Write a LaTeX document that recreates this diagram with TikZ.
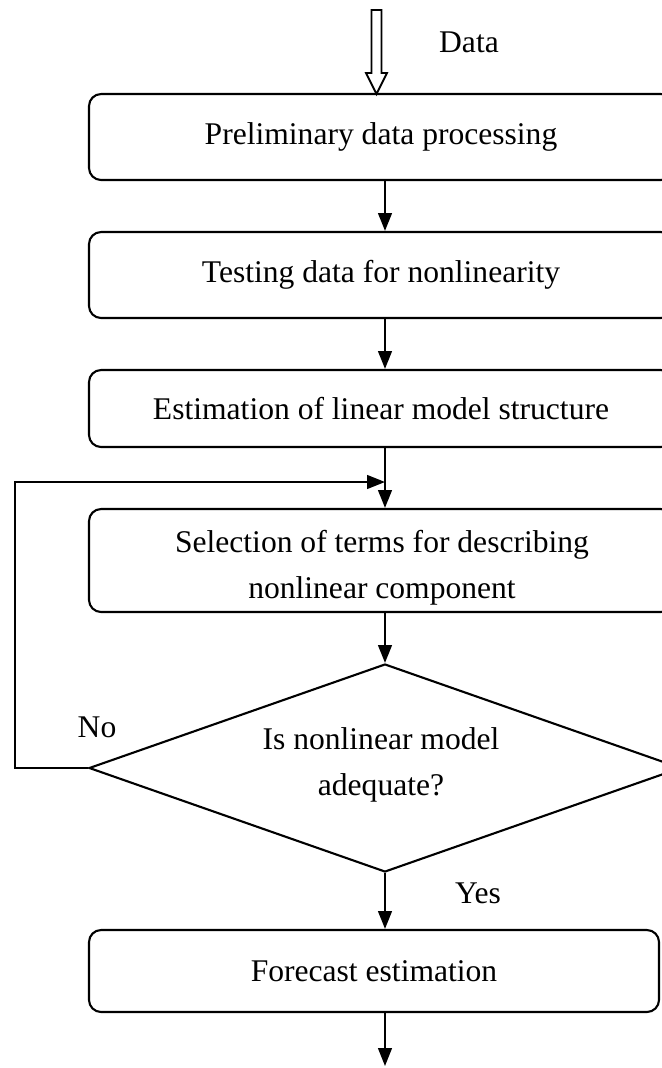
\documentclass[tikz,border=0pt]{standalone}
\usepackage{fontspec}
\setmainfont{Liberation Serif}
\usetikzlibrary{shapes.geometric,arrows.meta}
\begin{document}
\begin{tikzpicture}[x=0.38pt,y=-0.38pt,
  every node/.style={font=\fontsize{12}{17.5}\selectfont},
  box/.style={draw,line width=0.8pt,rounded corners=4.6pt,inner sep=0pt,align=center},
  lbl/.style={inner sep=0pt},
  arr/.style={line width=0.8pt,-{Triangle[width=5.2pt,length=6.8pt]}},
  ln/.style={line width=0.8pt}]
\useasboundingbox (0,0) rectangle (662,1068);
% boxes
\node[box,minimum width=584*0.38pt,minimum height=86*0.38pt] (b1) at (381,137) {Preliminary data processing};
\node[box,minimum width=584*0.38pt,minimum height=86*0.38pt] (b2) at (381,275) {Testing data for nonlinearity};
\node[box,minimum width=584*0.38pt,minimum height=77*0.38pt] (b3) at (381,408.5) {Estimation of linear model structure};
\node[box,minimum width=584*0.38pt,minimum height=103*0.38pt] (b4) at (381,560.5) {};
\node[lbl,align=center] (t4) at (382,568) {Selection of terms for describing\\nonlinear component};
\node[draw,ln,diamond,inner sep=0pt,minimum width=592*0.38pt,minimum height=208*0.38pt,align=center] (d) at (385,768) {};
\node[lbl,align=center] (dt) at (381,765) {Is nonlinear model\\adequate?};
\node[box,minimum width=570*0.38pt,minimum height=82*0.38pt] (b5) at (374,971) {Forecast estimation};
% labels
\node[lbl] (data) at (469,42) {Data};
\node[lbl] (no) at (97,727) {No};
\node[lbl] (yes) at (478,893) {Yes};
% hollow input arrow
\coordinate (tip) at (376.5,94);
\draw[line width=0.7pt,fill=white] (tip) -- (366,73) -- (371.5,73) -- (371.5,10) -- (381.5,10) -- (381.5,73) -- (387,73) -- cycle;
% connectors
\draw[arr] (b1.south -| d.north) -- (b2.north -| d.north);
\draw[arr] (b2.south -| d.north) -- (b3.north -| d.north);
\coordinate (j) at (385,482);
\draw[arr] (b3.south -| d.north) -- (b4.north -| d.north);
\draw[arr] (b4.south -| d.north) -- (d.north);
\coordinate (lc) at (15,768);
\coordinate (lt) at (15,482);
\draw[arr] (d.west) -- (lc) -- (lt) -- (j);
\draw[arr] (d.south) -- (b5.north -| d.south);
\coordinate (out) at (385,1066);
\draw[arr] (b5.south -| d.south) -- (out);
\end{tikzpicture}
\end{document}
